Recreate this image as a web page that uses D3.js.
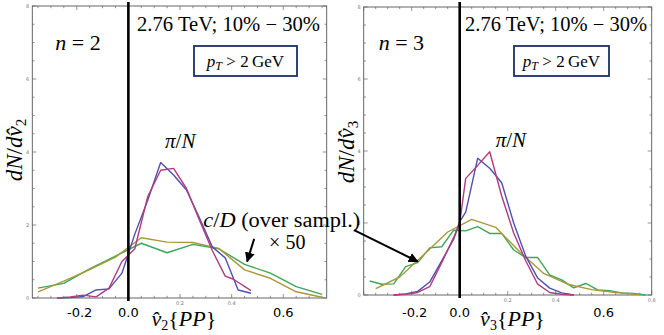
<!DOCTYPE html>
<html>
<head>
<meta charset="utf-8">
<script src="https://cdn.jsdelivr.net/npm/d3@7"></script>
<style>
  body { margin: 0; background: #fff; }
  svg { display: block; }
</style>
</head>
<body>
<div id="chart"></div>
<script>
// ---- data ----
// n = 2 panel
var v2BlueX = [-0.275, -0.225, -0.175, -0.125, -0.075, -0.025, 0.025, 0.075, 0.125, 0.175, 0.225, 0.275, 0.325, 0.375, 0.425, 0.475]
var v2BlueY = [0, 0.01, 0.04, 0.22, 0.25, 0.68, 1.75, 2.68, 3.71, 3.37, 2.96, 2.2, 1.4, 1.1, 0.22, 0.13]
var v2MagX = [-0.275, -0.225, -0.175, -0.125, -0.075, -0.025, 0.025, 0.075, 0.125, 0.175, 0.225, 0.275, 0.325, 0.375, 0.405, 0.475]
var v2MagY = [0, 0.03, 0.08, 0.03, 0.27, 1.0, 1.35, 2.78, 3.5, 3.55, 3.0, 2.14, 1.3, 0.6, 0.52, 0.2]
var v2CoarseX = [-0.35, -0.25, -0.15, -0.05, 0.05, 0.15, 0.25, 0.35, 0.45, 0.55, 0.65, 0.75]
var v2GreenY = [0.27, 0.4, 0.8, 1.15, 1.5, 1.24, 1.47, 1.35, 0.92, 0.68, 0.31, 0.1]
var v2OliveY = [0.17, 0.46, 0.78, 1.12, 1.65, 1.53, 1.52, 1.36, 0.77, 0.54, 0.17, 0.02]

// n = 3 panel
var v3FineX = [-0.275, -0.225, -0.175, -0.125, -0.075, -0.025, 0, 0.025, 0.075, 0.125, 0.175, 0.225, 0.275, 0.325, 0.375, 0.425, 0.475]
var v3BlueY = [0, 0.03, 0.1, 0.36, 0.95, 1.55, 2.04, 2.3, 3.8, 3.52, 3.12, 2.0, 1.08, 0.47, 0.19, 0.06, 0]
var v3MagY = [0, 0.02, 0.07, 0.23, 0.9, 1.6, 2.0, 3.24, 3.6, 3.98, 2.75, 1.72, 0.95, 0.3, 0.07, 0.02, 0]
var v3GreenX = [-0.375, -0.325, -0.275, -0.225, -0.175, -0.125, -0.075, -0.025, 0.025, 0.075, 0.125, 0.175, 0.225, 0.275, 0.325, 0.375, 0.425, 0.475, 0.525, 0.575, 0.625, 0.675, 0.725, 0.775]
var v3GreenY = [0.39, 0.3, 0.31, 0.79, 0.9, 1.31, 1.34, 1.8, 1.78, 1.9, 1.71, 1.71, 1.25, 1.04, 1.04, 0.56, 0.42, 0.2, 0.32, 0.14, 0.12, 0.06, 0.04, 0]
var v3OliveX = [-0.35, -0.25, -0.15, -0.05, 0.05, 0.15, 0.25, 0.35, 0.45, 0.55, 0.65, 0.75]
var v3OliveY = [0.18, 0.5, 1.12, 1.75, 2.1, 1.88, 1.2, 0.6, 0.3, 0.15, 0.07, 0.01]

var bigTickVals = [-0.2, 0.0, 0.6]
var smallXTicks = [0.2, 0.4, 0.6, 0.8]
var yTickVals = [0, 2, 4, 6, 8]

var colors = { blue: "#4f4fb4", mag: "#b03c7c", green: "#3fa658", olive: "#a89838" }
var SERIF = "Liberation Serif"

const svg = d3.select("#chart").append("svg")
    .attr("width", 664)
    .attr("height", 335)

function zip(xs, ys) { return xs.map((x, i) => [x, ys[i]]) }

function drawPanel(p) {
    const x = d3.scaleLinear().domain(p.xDomain).range([p.left, p.right])
    const y = d3.scaleLinear().domain([0, 8]).range([p.bottom, p.top])
    const g = svg.append("g")

    // frame
    g.append("rect")
        .attr("x", p.left).attr("y", p.top)
        .attr("width", p.right - p.left).attr("height", p.bottom - p.top)
        .attr("fill", "none").attr("stroke", "#555").attr("stroke-width", 0.9)

    // ticks on all four sides (major 0.2 / 2, minor 0.05 / 0.5)
    const xt = d3.range(Math.ceil(p.xDomain[0] / 0.05), Math.floor(p.xDomain[1] / 0.05) + 1).map(k => k * 0.05)
    xt.forEach(v => {
        const major = Math.abs(Math.round(v / 0.2) * 0.2 - v) < 1e-6
        const len = major ? 4 : 2.2
        g.append("line").attr("x1", x(v)).attr("x2", x(v)).attr("y1", p.bottom).attr("y2", p.bottom - len)
            .attr("stroke", "#666").attr("stroke-width", 0.7)
        g.append("line").attr("x1", x(v)).attr("x2", x(v)).attr("y1", p.top).attr("y2", p.top + len)
            .attr("stroke", "#666").attr("stroke-width", 0.7)
    })
    d3.range(0, 8.01, 0.5).forEach(v => {
        const major = v % 2 === 0
        const len = major ? 4 : 2.2
        g.append("line").attr("x1", p.left).attr("x2", p.left + len).attr("y1", y(v)).attr("y2", y(v))
            .attr("stroke", "#666").attr("stroke-width", 0.7)
        g.append("line").attr("x1", p.right).attr("x2", p.right - len).attr("y1", y(v)).attr("y2", y(v))
            .attr("stroke", "#666").attr("stroke-width", 0.7)
    })

    // tiny tick labels
    g.selectAll("text.ytiny").data(yTickVals).join("text")
        .attr("x", p.left - 3).attr("y", d => y(d) + 1.8)
        .attr("text-anchor", "end").attr("font-size", 5)
        .attr("font-family", "DejaVu Sans").attr("fill", "#777")
        .text(d => d)
    g.selectAll("text.xtiny").data(smallXTicks.filter(v => v <= p.xDomain[1] + 1e-6 && v !== 0.6)).join("text")
        .attr("x", d => x(d)).attr("y", p.bottom + 7)
        .attr("text-anchor", "middle").attr("font-size", 5)
        .attr("font-family", "DejaVu Sans").attr("fill", "#777")
        .text(d => d.toFixed(1))

    // curves
    const line = d3.line().x(d => x(d[0])).y(d => y(d[1]))
    p.series.forEach(s => {
        g.append("path").datum(s.pts)
            .attr("d", line)
            .attr("fill", "none")
            .attr("stroke", s.color)
            .attr("stroke-width", 1.4)
            .attr("stroke-linejoin", "round")
    })

    // vertical line at zero
    g.append("line")
        .attr("x1", x(0)).attr("x2", x(0)).attr("y1", 2).attr("y2", p.bottom + 3)
        .attr("stroke", "#000").attr("stroke-width", 2.6)

    // big tick labels
    g.selectAll("text.big").data(bigTickVals).join("text")
        .attr("x", d => x(d) + (d < 0 ? 3 : 0))
        .attr("y", 317)
        .attr("text-anchor", "middle")
        .attr("font-family", "DejaVu Sans")
        .attr("font-size", 13)
        .attr("fill", "#000")
        .text(d => d.toFixed(1))

    // x axis title
    const xt2 = g.append("text").attr("font-family", SERIF)
        .attr("x", x(p.titleAt)).attr("y", 326)
        .attr("text-anchor", "middle").attr("font-size", 22)
    xt2.append("tspan").attr("font-style", "italic").text("v\u0302")
    xt2.append("tspan").attr("font-size", 14).attr("dy", 4).text(p.n)
    xt2.append("tspan").attr("dy", -4).text("{")
    xt2.append("tspan").attr("font-style", "italic").text("PP")
    xt2.append("tspan").text("}")

    // y axis title
    const yt = g.append("text").attr("font-family", SERIF)
        .attr("transform", "translate(" + p.yTitleX + "," + p.yTitleY + ") rotate(-90)")
        .attr("text-anchor", "middle").attr("font-size", 23)
    yt.append("tspan").attr("font-style", "italic").text("dN")
    yt.append("tspan").text("/")
    yt.append("tspan").attr("font-style", "italic").text("dv\u0302")
    yt.append("tspan").attr("font-size", 15).attr("dy", 4).text(p.n)

    // n = ...
    const nt = g.append("text").attr("font-family", SERIF)
        .attr("x", p.left + p.nOffset).attr("y", 50).attr("font-size", 22)
    nt.append("tspan").attr("font-style", "italic").text("n")
    nt.append("tspan").text(" = " + p.n)

    // energy / centrality
    g.append("text").attr("font-family", SERIF)
        .attr("x", p.energyX).attr("y", 31).attr("font-size", 20)
        .attr("textLength", p.energyW).attr("lengthAdjust", "spacingAndGlyphs")
        .text("2.76 TeV; 10% \u2212 30%")

    // pT box
    g.append("rect")
        .attr("x", p.boxX).attr("y", 46).attr("width", p.boxW).attr("height", 30)
        .attr("fill", "#fff").attr("stroke", "#1b2f63").attr("stroke-width", 1.8)
    const bt = g.append("text").attr("font-family", SERIF)
        .attr("x", p.boxX + p.boxW / 2).attr("y", 67).attr("text-anchor", "middle").attr("font-size", 17)
    bt.append("tspan").attr("font-style", "italic").text("p")
    bt.append("tspan").attr("font-style", "italic").attr("font-size", 12).attr("dy", 3).text("T")
    bt.append("tspan").attr("dy", -3).text(" > 2\u2009GeV")

    // pi/N label
    const pt = g.append("text").attr("font-family", SERIF)
        .attr("x", x(p.piAt[0])).attr("y", y(p.piAt[1])).attr("font-size", 21)
    pt.append("tspan").attr("font-style", "italic").text("\u03c0")
    pt.append("tspan").text("/")
    pt.append("tspan").attr("font-style", "italic").text("N")

    return { x: x, y: y, g: g }
}

const leftP = drawPanel({
    n: 2, xDomain: [-0.372, 0.768], left: 32.3, right: 326.7, top: 6, bottom: 298,
    titleAt: 0.215, yTitleX: 22, yTitleY: 150, nOffset: 23,
    energyX: 137, energyW: 183, boxX: 194, boxW: 103, piAt: [0.142, 4.1],
    series: [
        { color: colors.green, pts: zip(v2CoarseX, v2GreenY) },
        { color: colors.olive, pts: zip(v2CoarseX, v2OliveY) },
        { color: colors.blue, pts: zip(v2BlueX, v2BlueY) },
        { color: colors.mag, pts: zip(v2MagX, v2MagY) }
    ]
})

const rightP = drawPanel({
    n: 3, xDomain: [-0.4, 0.8], left: 363.7, right: 651.7, top: 7, bottom: 295,
    titleAt: 0.22, yTitleX: 354, yTitleY: 152, nOffset: 15,
    energyX: 465, energyW: 182, boxX: 514, boxW: 95, piAt: [0.15, 4.1],
    series: [
        { color: colors.green, pts: zip(v3GreenX, v3GreenY) },
        { color: colors.olive, pts: zip(v3OliveX, v3OliveY) },
        { color: colors.blue, pts: zip(v3FineX, v3BlueY) },
        { color: colors.mag, pts: zip(v3FineX, v3MagY) }
    ]
})

// c/D annotation (spills over into right panel)
svg.append("defs").append("marker")
    .attr("id", "head").attr("viewBox", "0 0 10 10")
    .attr("refX", 9).attr("refY", 5)
    .attr("markerWidth", 5).attr("markerHeight", 5)
    .attr("orient", "auto")
    .append("path").attr("d", "M0,0 L10,5 L0,10 z").attr("fill", "#000")

const cd = svg.append("text").attr("font-family", SERIF)
    .attr("x", leftP.x(0.29)).attr("y", leftP.y(1.95)).attr("font-size", 20)
    .attr("textLength", 157).attr("lengthAdjust", "spacingAndGlyphs")
cd.append("tspan").attr("font-style", "italic").text("c")
cd.append("tspan").text("/")
cd.append("tspan").attr("font-style", "italic").text("D")
cd.append("tspan").text(" (over sampl.)")

svg.append("text").attr("font-family", SERIF)
    .attr("x", leftP.x(0.545)).attr("y", leftP.y(1.33)).attr("font-size", 20)
    .text("\u00d7 50")

svg.append("line")
    .attr("x1", leftP.x(0.487)).attr("y1", leftP.y(1.62))
    .attr("x2", leftP.x(0.46)).attr("y2", leftP.y(1.0))
    .attr("stroke", "#000").attr("stroke-width", 2)
    .attr("marker-end", "url(#head)")

svg.append("line")
    .attr("x1", rightP.x(-0.44)).attr("y1", rightP.y(1.8))
    .attr("x2", rightP.x(-0.175)).attr("y2", rightP.y(0.93))
    .attr("stroke", "#000").attr("stroke-width", 2)
    .attr("marker-end", "url(#head)")
</script>
</body>
</html>
